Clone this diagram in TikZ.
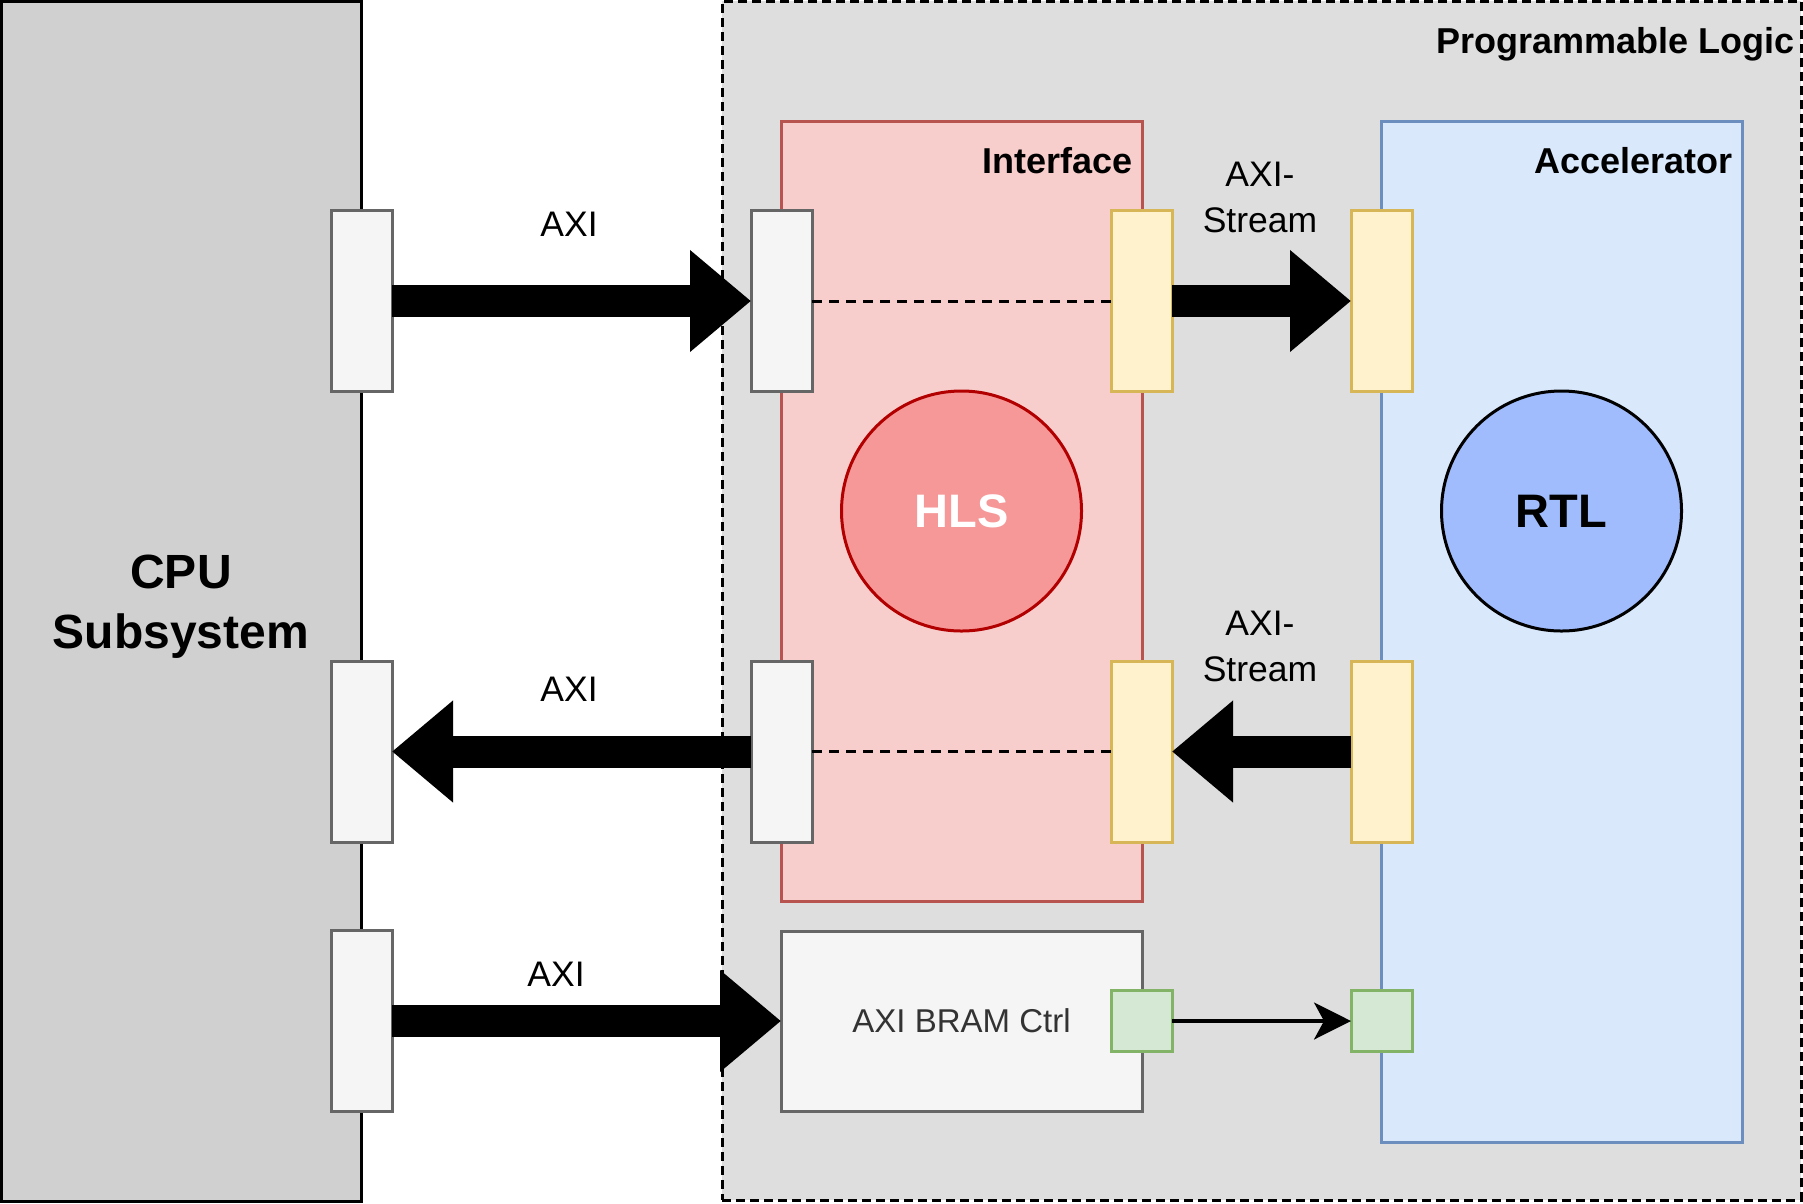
\documentclass[tikz,border=0pt]{standalone}
\usepackage{fontspec}
\setmainfont{Liberation Sans}
\usetikzlibrary{arrows.meta}
\definecolor{cpufill}{RGB}{208,208,208}
\definecolor{plfill}{RGB}{222,222,222}
\definecolor{intffill}{HTML}{F8CECC}
\definecolor{intfline}{HTML}{B85450}
\definecolor{accfill}{HTML}{DAE8FC}
\definecolor{accline}{HTML}{6C8EBF}
\definecolor{portfill}{HTML}{F5F5F5}
\definecolor{portline}{HTML}{666666}
\definecolor{yfill}{HTML}{FFF2CC}
\definecolor{yline}{HTML}{D6B656}
\definecolor{gfill}{HTML}{D5E8D4}
\definecolor{gline}{HTML}{82B366}
\definecolor{hlsfill}{RGB}{246,152,152}
\definecolor{hlsline}{HTML}{B20000}
\definecolor{rtlfill}{RGB}{160,188,252}
\definecolor{txtgray}{HTML}{333333}
\tikzset{
  box/.style={draw, line width=3pt, inner sep=0pt, outer sep=0pt},
  gport/.style={box, fill=portfill, draw=portline, minimum width=61pt, minimum height=181pt},
  yport/.style={box, fill=yfill, draw=yline, minimum width=61pt, minimum height=181pt},
  sport/.style={box, fill=gfill, draw=gline, minimum width=61pt, minimum height=61pt},
  lbl/.style={font=\fontsize{35.5}{46}\selectfont, inner sep=0pt, align=center},
  title/.style={font=\bfseries\fontsize{36}{42}\selectfont, inner sep=0pt},
  bigtxt/.style={font=\bfseries\fontsize{48}{60}\selectfont, inner sep=0pt, align=center},
  fat/.style={line width=32pt, -{Triangle[length=61pt,width=98pt]}},
  thinarrow/.style={line width=3.5pt, -{Stealth[length=37pt,width=37pt,inset=10pt]}},
  dashl/.style={line width=3pt, dash pattern=on 10pt off 7pt},
}
\begin{document}
\begin{tikzpicture}[x=1pt,y=-1pt]
\useasboundingbox (0,0) rectangle (1803,1203);
% large blocks
\node[box, fill=cpufill, draw=black, minimum width=360pt, minimum height=1200.6pt] (cpu) at (181,601.5) {};
\node[box, fill=plfill, draw=black, dash pattern=on 9pt off 5pt, minimum width=1079pt, minimum height=1198.8pt] (pl) at (1261.5,600.6) {};
\node[box, fill=intffill, draw=intfline, minimum width=361pt, minimum height=780pt] (intf) at (961.5,511) {};
\node[box, fill=accfill, draw=accline, minimum width=361pt, minimum height=1021pt] (acc) at (1561.5,631.5) {};
\node[box, fill=portfill, draw=portline, minimum width=361pt, minimum height=180pt, text=txtgray, font=\fontsize{33}{40}\selectfont] (bram) at (961.5,1021) {AXI BRAM Ctrl};
\node[box, circle, fill=hlsfill, draw=hlsline, minimum size=240pt, text=white, font=\bfseries\fontsize{47}{56}\selectfont] (hls) at (961.5,511) {HLS};
\node[box, circle, fill=rtlfill, draw=black, minimum size=240pt, font=\bfseries\fontsize{47}{56}\selectfont] (rtl) at (1561.5,511) {RTL};
% titles
\node[bigtxt] (cpulbl) at (181,607) {CPU\\Subsystem};
\node[title, anchor=base east] (pltitle) at (1795,53) {Programmable Logic};
\node[title, anchor=base east] (intftitle) at (1133,173) {Interface};
\node[title, anchor=base east] (acctitle) at (1733,173) {Accelerator};
% ports
\node[gport] (c1) at (361.5,301) {};
\node[gport] (c2) at (361.5,751.5) {};
\node[gport] (c3) at (361.5,1021) {};
\node[gport] (i1) at (781.5,301) {};
\node[gport] (i2) at (781.5,751.5) {};
\node[yport] (y1) at (1141.5,301) {};
\node[yport] (y2) at (1141.5,751.5) {};
\node[yport] (a1) at (1381.5,301) {};
\node[yport] (a2) at (1381.5,751.5) {};
\node[sport] (g1) at (1141.5,1021) {};
\node[sport] (g2) at (1381.5,1021) {};
% connectors
\draw[fat] (c1.east) -- (i1.west);
\draw[fat] (i2.west) -- (c2.east);
\draw[fat] (c3.east) -- (bram.west);
\draw[fat] (y1.east) -- (a1.west);
\draw[fat] (a2.west) -- (y2.east);
\draw[thinarrow] (g1.east) -- (g2.west);
\draw[dashl] (i1.east) -- (y1.west);
\draw[dashl] (i2.east) -- (y2.west);
% labels
\node[lbl] (l1) at (569,224.5) {AXI};
\node[lbl] (l2) at (569,689) {AXI};
\node[lbl] (l3) at (556,974) {AXI};
\node[lbl] (s1) at (1260,197) {AXI-\\Stream};
\node[lbl] (s2) at (1260,646) {AXI-\\Stream};
\end{tikzpicture}
\end{document}
